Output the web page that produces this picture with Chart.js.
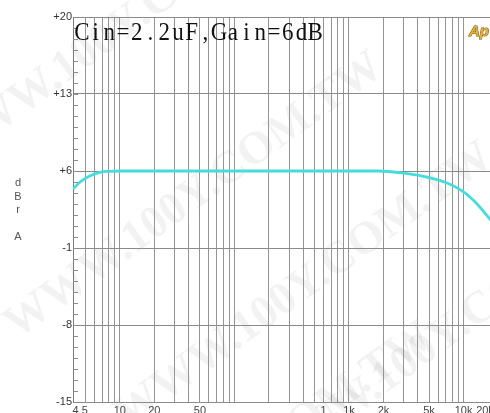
<!DOCTYPE html>
<html>
<head>
<meta charset="utf-8">
<script src="https://cdn.jsdelivr.net/npm/chart.js@4.4.1/dist/chart.umd.min.js"></script>
<style>
  html, body { margin: 0; padding: 0; background: #fff; overflow: hidden; width: 490px; height: 413px; }
  #wrap { position: absolute; left: 0; top: 0; width: 510px; height: 420px; }
</style>
</head>
<body>
<div id="wrap"><canvas id="c" width="510" height="420"></canvas></div>
<script>
// Frequency response, Cin = 2.2 uF, gain = 6 dB
const freqHz  = [3.9, 4.5, 5.5, 6.7, 8.2, 10, 20, 50, 100, 1000, 1800, 3000, 5000, 7000, 10000, 13000, 17000, 20000];
const levelDb = [4.36, 5.0, 5.57, 5.88, 5.97, 6.0, 6.0, 6.0, 6.0, 6.0, 6.0, 5.8, 5.4, 4.95, 4.1, 3.05, 1.64, 0.8];

const xTickValues = [4.5, 10, 20, 50, 600, 1000, 2000, 5000, 10000, 20000];
const xTickLabels = ['4.5', '10', '20', '50', '1', '1k', '2k', '5k', '10k', '20k'];
const yTickValues = [20, 13, 6, -1, -8, -15];
const yTickLabels = ['+20', '+13', '+6', '-1', '-8', '-15'];
const titleText = 'Cin=2.2uF,Gain=6dB';
const yAxisLetters = ['d', 'B', 'r', '', 'A'];
const watermarkText = 'WWW.100Y.COM.TW';

// log grid: 1..9 of each decade inside the axis range
const gridHz = [];
for (let d = 1; d <= 10000; d *= 10) {
  for (let m = 1; m <= 9; m++) {
    const v = m * d;
    if (v >= 5 && v <= 10000) gridHz.push(v);
  }
}
const minorDb = [];
for (let v = -15; v <= 20; v++) minorDb.push(v);

const decor = {
  id: 'decor',
  beforeDraw(chart) {
    const ctx = chart.ctx;
    ctx.save();
    ctx.fillStyle = '#fff';
    ctx.fillRect(0, 0, chart.width, chart.height);
    // faint diagonal watermark
    ctx.fillStyle = 'rgba(0,0,0,0.05)';
    ctx.font = 'bold 46px "Liberation Serif"';
    ctx.textBaseline = 'middle';
    const starts = [[-60, 160], [10, 330], [120, 420], [260, 470], [-120, 40], [60, 600]];
    for (const [sx, sy] of starts) {
      ctx.save();
      ctx.translate(sx, sy);
      ctx.rotate(-36 * Math.PI / 180);
      ctx.fillText(watermarkText, 0, 0);
      ctx.restore();
    }
    ctx.restore();
  },
  afterDraw(chart) {
    const ctx = chart.ctx;
    const xs = chart.scales.x, ys = chart.scales.y;
    const area = chart.chartArea;
    ctx.save();

    // short inward ticks every 1 dB
    ctx.strokeStyle = '#8c8c8c';
    ctx.lineWidth = 1;
    ctx.beginPath();
    for (const v of minorDb) {
      const y = Math.round(ys.getPixelForValue(v)) + 0.5;
      ctx.moveTo(area.left, y);
      ctx.lineTo(area.left + 5, y);
    }
    ctx.stroke();

    // frequency labels
    ctx.fillStyle = '#444';
    ctx.font = '11px "Liberation Sans"';
    ctx.textAlign = 'center';
    ctx.textBaseline = 'alphabetic';
    xTickValues.forEach((v, i) => {
      let px = xs.getPixelForValue(v);
      if (px > 485) px = 485;
      ctx.fillText(xTickLabels[i], px, 414);
    });

    // vertical axis unit
    ctx.font = '11px "Liberation Sans"';
    ctx.fillStyle = '#555';
    yAxisLetters.forEach((ch, i) => {
      if (ch) ctx.fillText(ch, 18, 186 + i * 13.5);
    });

    // title in fixed-width cells
    ctx.fillStyle = '#111';
    ctx.font = '25px "Liberation Serif"';
    ctx.textAlign = 'center';
    const cell = 13.72;
    [...titleText].forEach((ch, i) => {
      ctx.save();
      ctx.translate(75 + cell * (i + 0.5), 40);
      ctx.scale(0.92, 1);
      ctx.fillText(ch, 0, 0);
      ctx.restore();
    });

    // logo
    ctx.font = 'italic bold 15px "Liberation Sans"';
    ctx.textAlign = 'left';
    ctx.lineWidth = 1;
    ctx.strokeStyle = '#7a5a10';
    ctx.fillStyle = '#e0b040';
    ctx.strokeText('Ap', 469, 36);
    ctx.fillText('Ap', 469, 36);
    ctx.restore();
  }
};

new Chart(document.getElementById('c'), {
  type: 'line',
  data: {
    datasets: [{
      data: freqHz.map((f, i) => ({ x: f, y: levelDb[i] })),
      borderColor: '#45dcdc',
      borderWidth: 2.8,
      pointRadius: 0,
      fill: false,
      cubicInterpolationMode: 'monotone'
    }]
  },
  options: {
    responsive: false,
    animation: false,
    events: [],
    layout: { padding: { top: 17, right: 12, left: 0, bottom: 0 } },
    plugins: { legend: { display: false }, tooltip: { enabled: false }, title: { display: false } },
    scales: {
      x: {
        type: 'logarithmic',
        min: 3.9,
        max: 20000,
        afterBuildTicks: s => { s.ticks = gridHz.map(v => ({ value: v })); },
        ticks: { display: false },
        grid: { color: '#959595', lineWidth: 1, drawTicks: false },
        border: { display: true, color: '#8c8c8c' },
        afterFit: s => { s.height = 18; }
      },
      y: {
        min: -15,
        max: 20,
        afterBuildTicks: s => { s.ticks = yTickValues.map(v => ({ value: v })); },
        ticks: {
          callback: v => { const k = yTickValues.indexOf(v); return k >= 0 ? yTickLabels[k] : ''; },
          font: { family: 'Liberation Sans', size: 11 },
          color: '#333',
          padding: 1
        },
        grid: { color: '#8a8a8a', lineWidth: 1, drawTicks: false },
        border: { display: true, color: '#7a7a7a' },
        afterFit: s => { s.width = 73; }
      }
    }
  },
  plugins: [decor]
});
</script>
</body>
</html>
